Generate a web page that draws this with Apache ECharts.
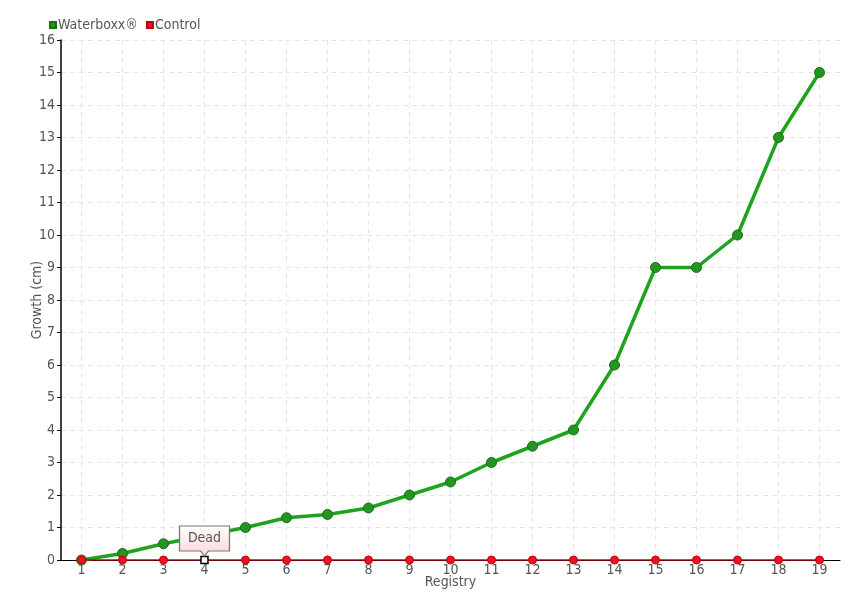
<!DOCTYPE html>
<html><head><meta charset="utf-8">
<script src="https://cdn.jsdelivr.net/npm/echarts@6/dist/echarts.min.js"></script>
<style>html,body{margin:0;padding:0;background:#fff}#c{width:860px;height:600px}</style>
</head><body><div id="c"></div>
<script>
const categories = ['1','2','3','4','5','6','7','8','9','10','11','12','13','14','15','16','17','18','19'];
const waterboxx = [0,0.2,0.5,0.75,1.0,1.3,1.4,1.6,2.0,2.4,3.0,3.5,4.0,6.0,9.0,9.0,10.0,13.0,15.0];
const control = [0,0,0,0,0,0,0,0,0,0,0,0,0,0,0,0,0,0,0];
const deadIndex = 3;
const deadLabel = 'Dead';
const seriesNames = ['Waterboxx®','Control'];
const yAxisName = 'Growth (cm)';
const xAxisName = 'Registry';

const FONT = "'DejaVu Sans Condensed','Liberation Sans Narrow',sans-serif";
const chart = echarts.init(document.getElementById('c'), null, {renderer:'canvas'});
const controlData = control.map((v,i)=> i===deadIndex ? {
  value: v, symbol:'rect', symbolSize:7,
  itemStyle:{color:'#fff', borderColor:'#000', borderWidth:1.5}
} : v);
chart.setOption({
  animation:false,
  textStyle:{fontFamily:FONT},
  legend:{
    left:44, top:13, icon:'rect', itemWidth:6, itemHeight:6, itemGap:8,
    textStyle:{color:'#555', fontSize:14, fontFamily:FONT, padding:[0,0,0,-3]},
    data:seriesNames
  },
  grid:{left:61, right:20, top:40, bottom:40, containLabel:false, outerBoundsMode:'none'},
  xAxis:{
    type:'category', data:categories, boundaryGap:true,
    name:xAxisName, nameLocation:'middle', nameGap:15, nameMoveOverlap:false,
    nameTextStyle:{color:'#555', fontSize:14, fontFamily:FONT},
    axisLine:{lineStyle:{color:'#000', width:1}},
    axisTick:{show:false, alignWithLabel:true},
    axisLabel:{color:'#555', fontSize:14, fontFamily:FONT, margin:3, interval:0},
    splitLine:{show:true, alignWithLabel:true, lineStyle:{color:'#e6e6e6', type:[5,4], width:1}}
  },
  yAxis:{
    type:'value', min:0, max:16, interval:1,
    name:yAxisName, nameLocation:'middle', nameGap:17, nameMoveOverlap:false,
    nameTextStyle:{color:'#555', fontSize:14, fontFamily:FONT},
    axisLine:{show:true, lineStyle:{color:'#000', width:1.5}},
    axisTick:{show:true, length:4, lineStyle:{color:'#000'}},
    axisLabel:{color:'#555', fontSize:14, fontFamily:FONT, margin:6},
    splitLine:{show:true, lineStyle:{color:'#e6e6e6', type:[5,4], width:1}}
  },
  series:[
    {
      name:seriesNames[0], type:'line', data:waterboxx, z:2,
      symbol:'circle', symbolSize:10, showAllSymbol:true,
      lineStyle:{color:'#1fa31f', width:3.5},
      itemStyle:{color:'#22961f', borderColor:'#1a6e18', borderWidth:1}
    },
    {
      name:seriesNames[1], type:'line', data:controlData, z:3,
      symbol:'circle', symbolSize:8, showAllSymbol:true,
      lineStyle:{color:'#cc0010', width:1.5},
      itemStyle:{color:'#ee1122', borderColor:'#c0000e', borderWidth:1},
      markPoint:{
        symbol:'path://M0,0 L50,0 L50,25 L29,25 L25,30 L21,25 L0,25 Z',
        symbolSize:[50,30], symbolKeepAspect:false, symbolOffset:[0,-19],
        itemStyle:{
          color:new echarts.graphic.LinearGradient(0,0,0,1,[{offset:0,color:'#ffffff'},{offset:1,color:'#fcd6d6'}]),
          borderColor:'#777', borderWidth:1
        },
        label:{show:true, formatter:deadLabel, color:'#555', fontSize:14, fontFamily:FONT, offset:[0,-3]},
        data:[{coord:[categories[deadIndex], control[deadIndex]]}]
      }
    }
  ]
});
</script></body></html>
